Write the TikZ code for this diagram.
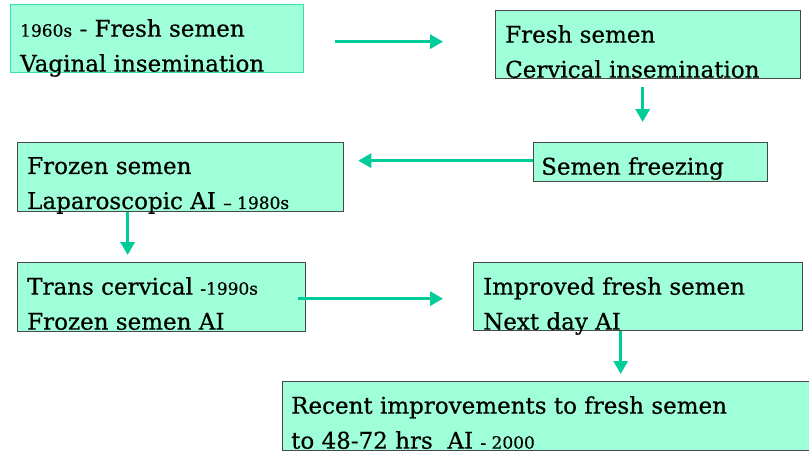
\documentclass[tikz,border=0pt]{standalone}
\usepackage{fontspec}
\setmainfont{DejaVu Serif}[BoldFont=DejaVu Serif, BoldFeatures={FakeBold=0.5}]
\usepackage{xcolor}
\usetikzlibrary{arrows.meta}
\usetikzlibrary{positioning}
\usetikzlibrary{calc}

\definecolor{mint}{RGB}{158,255,216}
\definecolor{arrgreen}{RGB}{0,204,153}
\definecolor{boxedge}{RGB}{72,72,72}
\definecolor{tealedge}{RGB}{60,222,172}

\newcommand{\smallyr}[1]{{\fontsize{17}{17}\selectfont #1}}

\tikzset{
  box/.style={draw=boxedge, line width=1.3pt, fill=mint, anchor=north west, inner sep=0pt},
  txt/.style={anchor=north west, inner sep=0pt, align=left, font={\fontsize{23}{35}\selectfont\bfseries}},
  arr/.style={draw=arrgreen, line width=3pt, -{Triangle[length=13pt,width=14pt]}}
}

\begin{document}
\begin{tikzpicture}[x=1pt,y=-1pt]
\useasboundingbox (0,0) rectangle (809,453);

% boxes
  \node[box, draw=tealedge, minimum width=293pt, minimum height=68pt] (A) at (10,4) {};
  \node[box, minimum width=305pt, minimum height=68pt] (B) at (495,10) {};
  \node[box, minimum width=234pt, minimum height=39pt] (C) at (533,142) {};
  \node[box, minimum width=326pt, minimum height=69pt] (D) at (17,142) {};
  \node[box, minimum width=288pt, minimum height=69pt] (E) at (17,262) {};
  \node[box, minimum width=329pt, minimum height=68pt] (F) at (473,262) {};
  \node[box, minimum width=532pt, minimum height=69pt] (G) at (282,381) {};

% texts
  \node[txt] (tA) at (20,19) {\smallyr{1960s} - Fresh semen\\Vaginal insemination};
  \node[txt] (tB) at (505,25) {Fresh semen\\Cervical insemination};
  \node[txt] (tC) at (541,157) {Semen freezing};
  \node[txt] (tD) at (27,157) {Frozen semen\\Laparoscopic AI \smallyr{-- 1980s}};
  \node[txt] (tE) at (27,277) {Trans cervical \smallyr{-1990s}\\Frozen semen AI};
  \node[txt] (tF) at (483,277) {Improved fresh semen\\Next day AI};
  \node[txt] (tG) at (291,396) {Recent improvements to fresh semen\\to 48-72 hrs\ \ AI \smallyr{- 2000}};

% arrows
  \draw[arr, shorten <=31pt, shorten >=52pt] ([yshift=-3pt]A.east) -- ([yshift=-3pt]A.east -| B.west);
  \draw[arr, shorten <=8pt, shorten >=20pt] ([xshift=-5.5pt]B.south) -- ([xshift=-5.5pt]B.south |- C.north);
  \draw[arr, shorten >=14pt] ([yshift=1.5pt]C.west) -- ([yshift=1.5pt]C.west -| D.east);
  \draw[arr, shorten >=7pt] ([xshift=-53pt]D.south) -- ([xshift=-53pt]D.south |- E.north);
  \draw[arr, shorten <=-8pt, shorten >=30pt] ([yshift=-1.5pt]E.east) -- ([yshift=-1.5pt]E.east -| F.west);
  \draw[arr, shorten >=7pt] ([xshift=-17.5pt]F.south) -- ([xshift=-17.5pt]F.south |- G.north);
\end{tikzpicture}
\end{document}
